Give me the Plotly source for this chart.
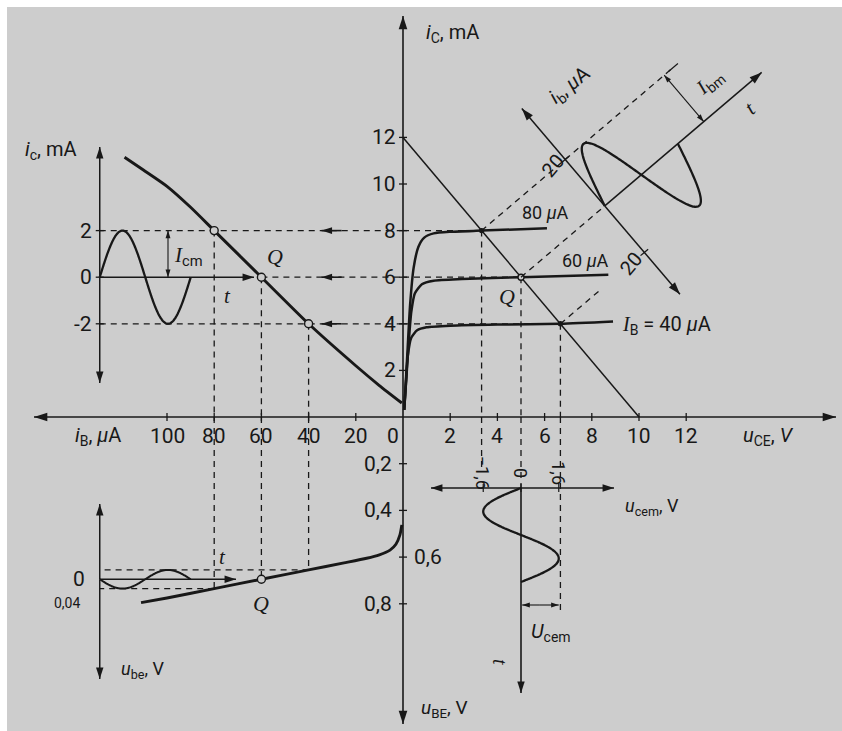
import math
import numpy as np
import plotly.graph_objects as go

W, H = 842, 731
INK = "#181818"
PAPER = "#cdcdcd"
SANS = "Roboto, 'DejaVu Sans', sans-serif"
SERIF_NAME = "Liberation Serif"

# ---------------- data ----------------
# output characteristics i_C(u_CE) for base currents 80, 60, 40 uA
UCE_80 = [0.05, 0.12, 0.2, 0.3, 0.45, 0.65, 0.9, 1.3, 2.0, 3.33, 6.1]
IC_80 = [0.3, 1.5, 3.0, 4.8, 6.4, 7.3, 7.7, 7.88, 7.95, 8.0, 8.1]
UCE_60 = [0.05, 0.15, 0.25, 0.35, 0.5, 0.8, 1.3, 2.5, 5.0, 8.7]
IC_60 = [0.3, 1.8, 3.3, 4.5, 5.3, 5.7, 5.85, 5.92, 6.0, 6.1]
UCE_40 = [0.05, 0.12, 0.2, 0.35, 0.6, 1.0, 2.0, 4.0, 6.67, 8.9]
IC_40 = [0.3, 1.4, 2.6, 3.4, 3.72, 3.85, 3.92, 3.97, 4.0, 4.1]

# load line
LOAD_UCE = [0, 10]
LOAD_IC = [12, 0]

# current transfer characteristic i_C(i_B)
TR_IB = [0.5, 10, 20, 40, 60, 80, 90, 100, 110, 118]
TR_IC = [0.6, 1.35, 2.2, 4.0, 6.0, 8.0, 9.0, 9.9, 10.6, 11.15]

# input characteristic u_BE(i_B)
IN_IB = [0.5, 1.3, 3, 5.5, 10, 15.4, 25, 40, 60, 80, 100, 111]
IN_UBE = [0.462, 0.505, 0.545, 0.57, 0.59, 0.605, 0.625, 0.655, 0.695, 0.735, 0.775, 0.795]

# operating points: upper swing, Q, lower swing
OP_IB = [80, 60, 40]
OP_IC = [8, 6, 4]
OP_UCE = [3.33, 5.0, 6.67]
OP_UBE = [0.735, 0.695, 0.655]

# signal amplitudes
IBM = 20      # uA
ICM = 2       # mA
UBEM = 0.04   # V
UCEM = 1.6    # V

# tick values
UCE_TICKS = [2, 4, 6, 8, 10, 12]
IC_TICKS = [2, 4, 6, 8, 10, 12]
IB_TICKS = [20, 40, 60, 80, 100]
UBE_TICKS = [0.2, 0.4, 0.6, 0.8]
IC_AC_TICKS = [2, 0, -2]
UCEM_TICKS = [-1.6, 0, 1.6]


# ---------------- coordinate frames ----------------
class Frame:
    """Linear axis: origin pixel, pixels per unit, direction (+1 along pixel index)."""

    def __init__(self, origin, scale, sign):
        self.o, self.s, self.sg = origin, scale, sign

    def val(self, px):
        return self.sg * (px - self.o) / self.s

    def px(self, v):
        return self.o + self.sg * v * self.s


FX = Frame(403, 23.6, 1)        # u_CE, V
FY = Frame(417, 23.3, -1)       # i_C, mA
FXB = Frame(403, 2.36, -1)      # i_B, uA (grows to the left)
FYB = Frame(417, 233.5, 1)      # u_BE, V (grows downward)
INSET_IB = 128.5                # i_B position of the left time-diagrams
FXT = Frame(FXB.px(INSET_IB), 91, 1)           # time, left insets
FYC = Frame(FY.px(OP_IC[1]), 23.3, -1)         # i_c alternating part
FYBE = Frame(FYB.px(OP_UBE[1]), 233.5, 1)      # u_be alternating part
FXCE = Frame(FX.px(OP_UCE[1]), 23.6, 1)        # u_cem
FYT = Frame(488, 94, 1)                        # time, downward

FRAMES = {"x": FX, "x2": FXB, "x3": FXT, "x4": FXCE,
          "y": FY, "y2": FYB, "y3": FYC, "y4": FYBE, "y5": FYT}

fig = go.Figure()


def head(x0, y0, x1, y1, xa, ya, size):
    """Arrow head at (x1, y1) pointing away from (x0, y0)."""
    fx, fy = FRAMES[xa], FRAMES[ya]
    dx = fx.px(x1) - fx.px(x0)
    dy = fy.px(y1) - fy.px(y0)
    ang = math.degrees(math.atan2(dx, -dy))
    fig.add_trace(go.Scatter(
        x=[x1], y=[y1], xaxis=xa, yaxis=ya, mode="markers",
        marker=dict(symbol="arrow", size=size, angle=ang, color=INK,
                    line=dict(width=0)),
        hoverinfo="skip", showlegend=False))


def seg(xs, ys, xa="x", ya="y", width=1.5):
    fig.add_trace(go.Scatter(
        x=list(xs), y=list(ys), xaxis=xa, yaxis=ya, mode="lines",
        line=dict(color=INK, width=width, shape="spline", smoothing=0.6),
        hoverinfo="skip", showlegend=False))


def straight(xs, ys, xa="x", ya="y", width=1.5, dash=None, tip=0):
    xs, ys = list(xs), list(ys)
    fig.add_trace(go.Scatter(
        x=xs, y=ys, xaxis=xa, yaxis=ya, mode="lines",
        line=dict(color=INK, width=width, dash=dash),
        hoverinfo="skip", showlegend=False))
    if tip:
        head(xs[-2], ys[-2], xs[-1], ys[-1], xa, ya, tip)


def dots(xs, ys, xa="x", ya="y", size=8, fill=PAPER):
    fig.add_trace(go.Scatter(
        x=list(xs), y=list(ys), xaxis=xa, yaxis=ya, mode="markers",
        marker=dict(symbol="circle", size=size, color=fill, line=dict(color=INK, width=1.4)),
        hoverinfo="skip", showlegend=False))


def label(text, x, y, xa="x", ya="y", size=20, angle=0, xanchor="center",
          yanchor="middle", dx=0, dy=0, family=SANS):
    fig.add_annotation(text=text, x=x, y=y, xref=xa, yref=ya, showarrow=False,
                       font=dict(size=size, family=family, color=INK),
                       textangle=angle, xanchor=xanchor, yanchor=yanchor,
                       xshift=dx, yshift=dy)


def serif(s):
    return f"<span style=\"font-family:'{SERIF_NAME}'\"><i>{s}</i></span>"


DASH = "6px,5px"

# ---------------- main axes ----------------
straight([0, FX.val(836)], [0, 0], "x", "y", 1.6, tip=14)
straight([0, FXB.val(34)], [0, 0], "x2", "y", 1.6, tip=14)
straight([0, 0], [0, FY.val(16)], "x", "y", 1.6, tip=14)
straight([0, 0], [0, FYB.val(724)], "x2", "y2", 1.6, tip=14)

# tick marks
tx, ty = 4 / FX.s, 4 / FY.s
for v in UCE_TICKS:
    straight([v, v], [-ty, ty], "x", "y", 1.3)
for v in IC_TICKS:
    straight([-tx, tx], [v, v], "x", "y", 1.3)
for v in IB_TICKS:
    straight([v, v], [-ty, ty], "x2", "y", 1.3)
for v in UBE_TICKS:
    straight([-4 / FXB.s, 4 / FXB.s], [v, v], "x2", "y2", 1.3)

for v in UCE_TICKS:
    label(str(v), v, 0, "x", "y", 21, dy=-19)
for v in IC_TICKS:
    label(str(v), 0, v, "x", "y", 21, xanchor="right", dx=-5)
for v in IB_TICKS:
    label(str(v), v, 0, "x2", "y", 21, dy=-19)
label("0", 0, 0, "x2", "y", 21, dy=-19, dx=-10)
for v in UBE_TICKS:
    txt = f"{v:.1f}".replace(".", ",")
    if v == 0.6:
        label(txt, 0, v, "x2", "y2", 21, xanchor="left", dx=9)
    else:
        label(txt, 0, v, "x2", "y2", 21, xanchor="right", dx=-9)

label("<i>i</i><sub>C</sub>, mA", 0, FY.val(33), "x", "y", 20, xanchor="left", dx=21)
label("<i>u</i><sub>CE</sub>, <i>V</i>", FX.val(768), 0, "x", "y", 20, dy=-19)
label("<i>i</i><sub>B</sub>, <i>μ</i>A", FXB.val(98), 0, "x2", "y", 20, dy=-19)
label("<i>u</i><sub>BE</sub>, V", 0, FYB.val(708), "x2", "y2", 19, xanchor="left", dx=16)

# ---------------- characteristics ----------------
straight(LOAD_UCE, LOAD_IC, "x", "y", 1.5)
seg(UCE_80, IC_80, "x", "y", 2.5)
seg(UCE_60, IC_60, "x", "y", 2.5)
seg(UCE_40, IC_40, "x", "y", 2.5)
seg(TR_IB, TR_IC, "x2", "y", 2.9)
seg(IN_IB, IN_UBE, "x2", "y2", 2.9)

label("80 <i>μ</i>A", FX.val(520), FY.val(212), "x", "y", 18, xanchor="left")
label("60 <i>μ</i>A", FX.val(560), FY.val(260), "x", "y", 18, xanchor="left")
label(serif("I") + "<sub>B</sub> = 40 <i>μ</i>A", FX.val(620), FY.val(325), "x", "y", 20,
      xanchor="left")

# ---------------- projection lines ----------------
for k in range(3):
    ib, ic, uce, ube = OP_IB[k], OP_IC[k], OP_UCE[k], OP_UBE[k]
    start = ib if k == 1 else INSET_IB
    straight([start, 0], [ic, ic], "x2", "y", 1.3, dash=DASH)
    straight([0, uce], [ic, ic], "x", "y", 1.3, dash=DASH)
    straight([ib, ib], [ic, 0], "x2", "y", 1.3, dash=DASH)
    straight([ib, ib], [0, ube], "x2", "y2", 1.3, dash=DASH)
    if k != 1:
        straight([ib, INSET_IB], [ube, ube], "x2", "y2", 1.3, dash=DASH)
    # direction marks on the current levels
    straight([26, 34.5], [ic, ic], "x2", "y", 1.6, tip=11)

# drops from the output points to the u_cem diagram
DROP_END_T = [FYT.val(467), 0.0, FYT.val(612)]
for k in range(3):
    uce, ic = OP_UCE[k], OP_IC[k]
    straight([uce, uce], [ic, 0], "x", "y", 1.3, dash=DASH)
    d = uce - OP_UCE[1]
    straight([d, d], [FYT.val(FY.px(0)), DROP_END_T[k]], "x4", "y5", 1.3, dash=DASH)

dots(OP_IB, OP_IC, "x2", "y", 8)
dots([OP_IB[1]], [OP_UBE[1]], "x2", "y2", 8)
dots([OP_UCE[1]], [OP_IC[1]], "x", "y", 6)
dots([OP_UCE[0], OP_UCE[2]], [OP_IC[0], OP_IC[2]], "x", "y", 4, fill=INK)

label(serif("Q"), OP_IB[1], OP_IC[1], "x2", "y", 22, dx=14, dy=21, family=SERIF_NAME)
label(serif("Q"), OP_UCE[1], OP_IC[1], "x", "y", 22, dx=-14, dy=-19, family=SERIF_NAME)
label(serif("Q"), OP_IB[1], OP_UBE[1], "x2", "y2", 22, dy=-24, family=SERIF_NAME)

# ---------------- collector current vs time (top left) ----------------
t = np.linspace(0, 1, 121)
straight([0, 0], [0, FYC.val(147)], "x3", "y3", 1.5, tip=12)
straight([0, 0], [0, FYC.val(383)], "x3", "y3", 1.5, tip=12)
straight([0, FXT.val(254)], [0, 0], "x3", "y3", 1.5, tip=12)
for v in IC_AC_TICKS:
    straight([-4 / FXT.s, 4 / FXT.s], [v, v], "x3", "y3", 1.3)
    label(str(v), 0, v, "x3", "y3", 21, xanchor="right", dx=-6)
seg(t, ICM * np.sin(2 * np.pi * t), "x3", "y3", 2.3)
xd = FXT.val(168)
straight([xd, xd], [ICM / 2, ICM], "x3", "y3", 1.1, tip=8)
straight([xd, xd], [ICM / 2, 0], "x3", "y3", 1.1, tip=8)
label(serif("I") + "<sub>cm</sub>", FXT.val(172), FYC.val(256), "x3", "y3", 21,
      xanchor="left")
label(serif("t"), FXT.val(227), FYC.val(296), "x3", "y3", 21, family=SERIF_NAME)
label("<i>i</i><sub>c</sub>, mA", FXT.val(51), FYC.val(150), "x3", "y3", 20)

# ---------------- base-emitter voltage vs time (bottom left) ----------------
straight([0, 0], [0, FYBE.val(504)], "x3", "y4", 1.5, tip=12)
straight([0, 0], [0, FYBE.val(679)], "x3", "y4", 1.5, tip=12)
straight([0, FXT.val(236)], [0, 0], "x3", "y4", 1.5, tip=12)
seg(t, UBEM * np.sin(2 * np.pi * t), "x3", "y4", 2.0)
label("0", 0, 0, "x3", "y4", 21, dx=-21)
label(f"{UBEM:.2f}".replace(".", ","), FXT.val(67), FYBE.val(603), "x3", "y4", 14)
label(serif("t"), FXT.val(222), FYBE.val(557), "x3", "y4", 21, family=SERIF_NAME)
label("<i>u</i><sub>be</sub>, V", FXT.val(142), FYBE.val(670), "x3", "y4", 18)

# ---------------- collector-emitter voltage vs time (bottom right) ----------------
straight([0, FXCE.val(431)], [0, 0], "x4", "y5", 1.5, tip=12)
straight([0, FXCE.val(614)], [0, 0], "x4", "y5", 1.5, tip=12)
straight([0, 0], [0, FYT.val(693)], "x4", "y5", 1.6, tip=12)
for v in UCEM_TICKS:
    straight([v, v], [-4 / FYT.s, 4 / FYT.s], "x4", "y5", 1.2)
    txt = f"{v:.1f}".replace(".", ",").replace("-", "−") if v else "0"
    label(txt, v, FYT.val(473), "x4", "y5", 18, angle=90)
seg(-UCEM * np.sin(2 * np.pi * t), t, "x4", "y5", 2.3)
yd = FYT.val(605)
straight([UCEM / 2, UCEM], [yd, yd], "x4", "y5", 1.1, tip=8)
straight([UCEM / 2, 0.05], [yd, yd], "x4", "y5", 1.1, tip=8)
label("<i>U</i><sub>cem</sub>", FXCE.val(551), FYT.val(632), "x4", "y5", 20)
label("<i>u</i><sub>cem</sub>, V", FXCE.val(652), FYT.val(507), "x4", "y5", 18)
label(serif("t"), FXCE.val(500), FYT.val(662), "x4", "y5", 20, angle=90,
      family=SERIF_NAME)

# ---------------- base current vs time (rotated, top right) ----------------
ANG = np.deg2rad(40.4)
DT = np.array([np.cos(ANG), -np.sin(ANG)])     # screen direction of the time axis
DB = np.array([-np.sin(ANG), -np.cos(ANG)])    # screen direction of +i_b


def px_of(u, i):
    return np.array([FX.px(u), FY.px(i)])


Q_PX = px_of(OP_UCE[1], OP_IC[1])
O_PX = Q_PX + 110 * DT
P_HI = px_of(OP_UCE[0], OP_IC[0])
P_LO = px_of(OP_UCE[2], OP_IC[2])
PX_PER_UA = np.dot(P_HI - Q_PX, DB) / (OP_IB[0] - OP_IB[1])


def rot_px(s, b):
    s, b = np.atleast_1d(s).astype(float), np.atleast_1d(b).astype(float)
    p = O_PX + np.outer(s, DT) + np.outer(b, DB)
    return FX.val(p[:, 0]), FY.val(p[:, 1])


def rot(s, b_ua):
    return rot_px(s, np.atleast_1d(b_ua) * PX_PER_UA)


def rot_line(s, b_ua, width=1.3, dash=None, tip=0):
    x, y = rot(s, b_ua)
    straight(x, y, "x", "y", width, dash, tip)


s_hi = np.dot(P_HI - O_PX, DT)
s_lo = np.dot(P_LO - O_PX, DT)
s_q = np.dot(Q_PX - O_PX, DT)
b_hi = np.dot(P_HI - O_PX, DB) / PX_PER_UA
b_lo = np.dot(P_LO - O_PX, DB) / PX_PER_UA

rot_line([s_q, 0], [0, 0], dash=DASH)
rot_line([s_hi, 142], [b_hi, b_hi], dash=DASH)
rot_line([s_lo, -58], [b_lo, b_lo], dash=DASH)
rot_line([0, 206], [0, 0], 1.5, tip=13)
rot_line([0, 0], [0, 128 / PX_PER_UA], 1.5, tip=13)
rot_line([0, 0], [0, -116 / PX_PER_UA], 1.5, tip=13)
for bv in (IBM, -IBM):
    rot_line([-5, 5], [bv, bv], 1.3)
rot_line([130, 130], [IBM / 2, IBM], 1.1, tip=8)
rot_line([130, 130], [IBM / 2, 0], 1.1, tip=8)
rot_line([136, 148], [IBM, IBM], 1.2)

s_w = np.linspace(0, 96, 121)
xw, yw = rot(s_w, IBM * np.sin(2 * np.pi * s_w / 96))
seg(xw, yw, "x", "y", 2.3)

for txt, s, b, ang, sz in [
    ("<i>i</i><sub>b</sub>, <i>μ</i>A", 52, 114, -39, 20),
    ("20", -14, 64, -50, 20),
    ("20", -18, -61, -50, 20),
    (serif("I") + "<sub>bm</sub>", 160, 26, -40, 20),
    (serif("t"), 174, -20, -40, 21),
]:
    x, y = rot_px(s, b)
    label(txt, x[0], y[0], "x", "y", sz, angle=ang)

# ---------------- layout ----------------
axes = {}
for key, fr in FRAMES.items():
    kind = "xaxis" if key[0] == "x" else "yaxis"
    rng = [fr.val(0), fr.val(W)] if key[0] == "x" else [fr.val(H), fr.val(0)]
    spec = dict(range=rng, autorange=False, visible=False, fixedrange=True)
    if len(key) > 1:
        spec["overlaying"] = key[0]
    axes[kind + key[1:]] = spec

fig.update_layout(
    width=W, height=H, margin=dict(l=0, r=0, t=0, b=0),
    paper_bgcolor="white", plot_bgcolor="rgba(0,0,0,0)",
    showlegend=False,
    shapes=[dict(type="rect", xref="paper", yref="paper", x0=7 / W, x1=1,
                 y0=0, y1=1 - 7 / H, fillcolor=PAPER, line=dict(width=0),
                 layer="below")],
    **axes,
)

fig.write_html("out.html")
